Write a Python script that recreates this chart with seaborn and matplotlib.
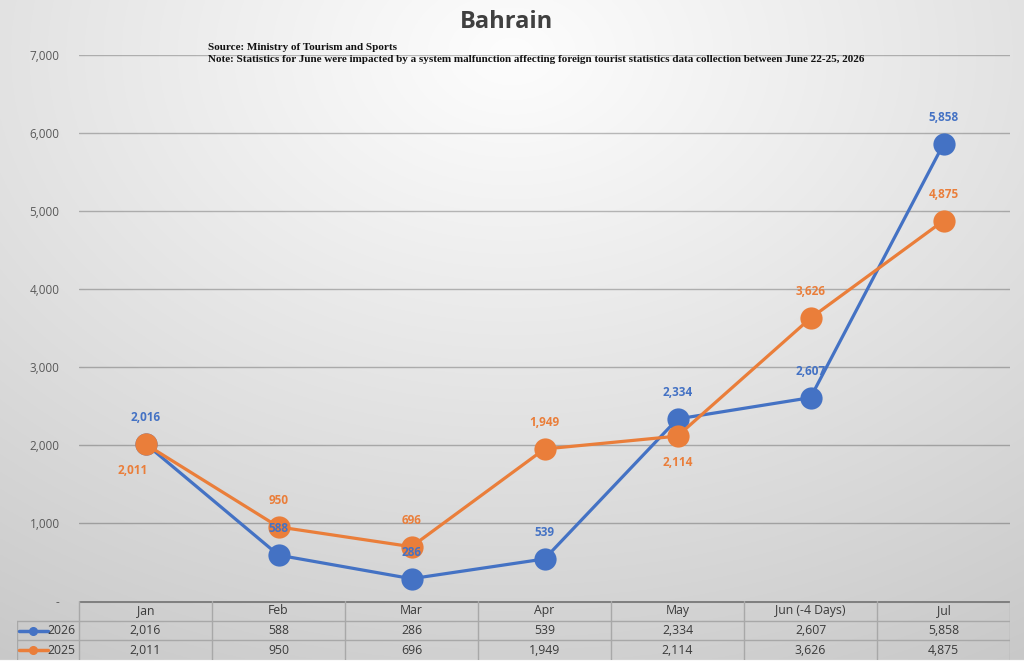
import numpy as np
import pandas as pd
import matplotlib
matplotlib.use("Agg")
import matplotlib.pyplot as plt
import seaborn as sns

months = ["Jan", "Feb", "Mar", "Apr", "May", "Jun (-4 Days)", "Jul"]
series_names = ["2026", "2025"]
values_2026 = [2016, 588, 286, 539, 2334, 2607, 5858]
values_2025 = [2011, 950, 696, 1949, 2114, 3626, 4875]
yticks = [0, 1000, 2000, 3000, 4000, 5000, 6000, 7000]
ytick_labels = ["-", "1,000", "2,000", "3,000", "4,000", "5,000", "6,000", "7,000"]
# label placement per point: +1 above, -1 below
pos_2026 = [1, 1, 1, 1, 1, 1, 1]
pos_2025 = [-1, 1, 1, 1, -1, 1, 1]

title = "Bahrain"
note1 = "Source: Ministry of Tourism and Sports"
note2 = "Note: Statistics for June were impacted by a system malfunction affecting foreign tourist statistics data collection between June 22-25, 2026"

blue = "#4472C4"
orange = "#EA7E3A"

sns.set_theme(style="white")
plt.rcParams["font.family"] = ["Open Sans", "DejaVu Sans"]

W, H = 1024, 665
fig = plt.figure(figsize=(W / 100, H / 100), dpi=100)

# background gradient
bg = fig.add_axes([0, 0, 1, 1], zorder=-10)
yy, xx = np.mgrid[0:1:400j, 0:1:600j]
d = np.sqrt(((xx - 0.5) * 1.0) ** 2 + ((yy - 0.08) * 0.9) ** 2)
g = np.clip(253 - 55 * d ** 1.05, 198, 253) / 255.0
img = np.dstack([g, g, g])
img[-int(400 * 5 / 665):, :, :] = 1.0
bg.imshow(img, extent=[0, 1, 0, 1], aspect="auto", origin="upper")
bg.set_axis_off()

ax_l, ax_r = 79 / W, 1010 / W
ax_b, ax_t = (H - 601) / H, (H - 55) / H
ax = fig.add_axes([ax_l, ax_b, ax_r - ax_l, ax_t - ax_b])
ax.set_facecolor("none")

x = np.arange(len(months))
df = pd.DataFrame({"x": np.concatenate([x, x]),
                   "v": values_2026 + values_2025,
                   "s": [series_names[0]] * len(x) + [series_names[1]] * len(x)})
for name, col, z in [(series_names[0], blue, 3), (series_names[1], orange, 4)]:
    sub = df[df.s == name]
    sns.lineplot(data=sub, x="x", y="v", ax=ax, color=col, linewidth=2.3,
                 marker="o", markersize=16, markeredgewidth=0, sort=False,
                 legend=False, zorder=z)

ax.set_xlim(-0.5, len(months) - 0.5)
ax.set_ylim(0, 7000)
ax.set_yticks(yticks)
ax.set_yticklabels(ytick_labels)
ax.tick_params(axis="y", length=0, pad=14, labelsize=8.5, labelcolor="#595959")
ax.set_xticks([])
ax.set_xlabel("")
ax.set_ylabel("")
for yv in yticks[1:]:
    ax.axhline(yv, color="black", alpha=0.25, lw=1.0, zorder=1)
for s in ax.spines.values():
    s.set_visible(False)

def fmt(v):
    return f"{v:,}"

for vals, poss, col in [(values_2026, pos_2026, blue), (values_2025, pos_2025, orange)]:
    for i, (v, p) in enumerate(zip(vals, poss)):
        dx = -9 if (p < 0 and i == 0) else 0
        ax.annotate(fmt(v), (i, v), xytext=(dx, 19 * p), textcoords="offset points",
                    ha="center", va="center", fontsize=8.5, fontweight="bold",
                    color=col, zorder=6)

# titles
fig.text(507 / W, 1 - 22 / H, title, ha="center", va="center", fontsize=17,
         fontweight="bold", color="#404040")
fig.text(208 / W, 1 - 47 / H, note1, ha="left", va="center", fontsize=8.0,
         fontweight="bold", family=["Liberation Serif", "DejaVu Serif"], color="#111111")
fig.text(208 / W, 1 - 59 / H, note2, ha="left", va="center", fontsize=8.0,
         fontweight="bold", family=["Liberation Serif", "DejaVu Serif"], color="#111111")

# data table
t_l = 17 / W
tab = fig.add_axes([t_l, (H - 660) / H, ax_r - t_l, 59 / H])
tab.set_facecolor("none")
cw = (1010 - 79) / len(months)
x0 = -0.5 - (79 - 17) / cw
tab.set_xlim(x0, len(months) - 0.5)
tab.set_ylim(0, 3)
tab.set_axis_off()
lc = "#a8a8a8"
tab.plot([-0.5, len(months) - 0.5], [3, 3], color="#808080", lw=2.2, solid_capstyle="butt")
for yv in [2, 1]:
    tab.plot([x0, len(months) - 0.5], [yv, yv], color=lc, lw=1)
for k in range(len(months) + 1):
    tab.plot([-0.5 + k, -0.5 + k], [0, 3], color=lc, lw=1)
tab.plot([x0, x0], [0, 2], color=lc, lw=1)
tc = "#3a3a3a"
fs = 8.8
for i, m in enumerate(months):
    tab.text(i, 2.5, m, ha="center", va="center", fontsize=fs, color=tc)
    tab.text(i, 1.5, fmt(values_2026[i]), ha="center", va="center", fontsize=fs, color=tc)
    tab.text(i, 0.5, fmt(values_2025[i]), ha="center", va="center", fontsize=fs, color=tc)
for row, name, col in [(1.5, series_names[0], blue), (0.5, series_names[1], orange)]:
    kx0, kx1 = x0 + 1.5 / cw, x0 + 31 / cw
    tab.plot([kx0, kx1], [row, row], color=col, lw=2.5)
    tab.plot([(kx0 + kx1) / 2], [row], marker="o", color=col, markersize=5.5)
    tab.text(-0.5 - 4 / cw, row, name, ha="right", va="center", fontsize=fs, color=tc)

fig.savefig("out.png", dpi=100)
